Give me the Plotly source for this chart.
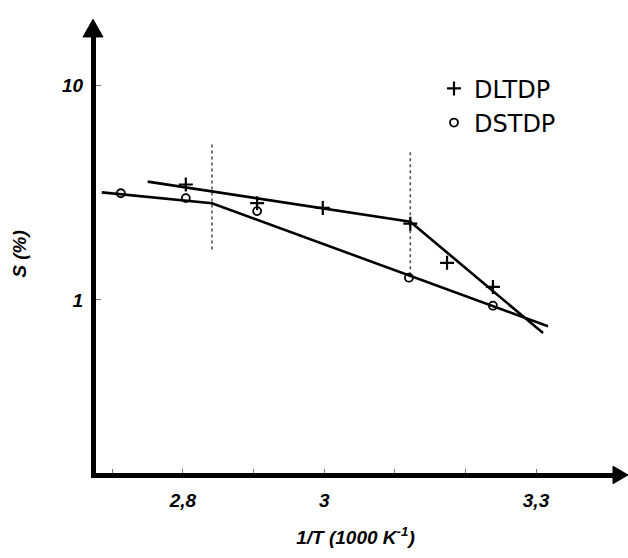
import plotly.graph_objects as go

# ---- data ----
dltdp_x = [2.804, 2.905, 2.998, 3.122, 3.174, 3.239]
dltdp_y = [3.46, 2.83, 2.69, 2.27, 1.49, 1.15]

dstdp_x = [2.712, 2.804, 2.905, 3.120, 3.239]
dstdp_y = [3.15, 2.99, 2.60, 1.27, 0.94]

# fitted (hand-drawn) lines
dltdp_fit_x = [2.750, 3.122, 3.310]
dltdp_fit_y = [3.57, 2.32, 0.70]
dstdp_fit_x = [2.685, 2.841, 3.317]
dstdp_fit_y = [3.18, 2.83, 0.753]

# dotted vertical marker lines (break points)
vline1_x = [2.841, 2.841]
vline1_y = [5.32, 1.67]
vline2_x = [3.122, 3.122]
vline2_y = [4.89, 1.27]

x_tickvals = [2.8, 3.0, 3.3]
x_ticktext = ["2,8", "3", "3,3"]
x_minor_vals = [2.7, 2.9, 3.1, 3.2]
y_tickvals = [1, 10]
y_ticktext = ["1", "10"]

FONT = "Liberation Sans, Arial, sans-serif"
bi = dict(family=FONT, size=19, color="black", weight="bold", style="italic")

fig = go.Figure()

for xs, ys in [(vline1_x, vline1_y), (vline2_x, vline2_y)]:
    fig.add_trace(go.Scatter(x=xs, y=ys, mode="lines", showlegend=False,
                             line=dict(color="#555555", width=1.6, dash="dot"),
                             hoverinfo="skip"))

fig.add_trace(go.Scatter(x=dltdp_fit_x, y=dltdp_fit_y, mode="lines", showlegend=False,
                         line=dict(color="black", width=2.6)))
fig.add_trace(go.Scatter(x=dstdp_fit_x, y=dstdp_fit_y, mode="lines", showlegend=False,
                         line=dict(color="black", width=2.6)))

fig.add_trace(go.Scatter(x=dltdp_x, y=dltdp_y, mode="markers", name="DLTDP",
                         legendgroup="a",
                         marker=dict(symbol="cross-thin", size=10, color="black",
                                     line=dict(color="black", width=2.2))))
fig.add_trace(go.Scatter(x=dstdp_x, y=dstdp_y, mode="markers", name="DSTDP",
                         legendgroup="b",
                         marker=dict(symbol="circle-open", size=8, color="black",
                                     line=dict(color="black", width=1.8))))

W, H = 628, 558
L, R, T, B = 96, 13, 35, 75
pw, ph = W - L - R, H - T - B


def px(x, y):
    """reference pixel -> paper coords"""
    return (x - L) / pw, (H - B - y) / ph


def tri(p1, p2, p3):
    a, b, c = px(*p1), px(*p2), px(*p3)
    return f"M {a[0]} {a[1]} L {b[0]} {b[1]} L {c[0]} {c[1]} Z"


fig.add_shape(type="path", xref="paper", yref="paper",
              path=tri((93, 19), (83, 37), (103, 37)),
              fillcolor="black", line=dict(color="black", width=1))
fig.add_shape(type="path", xref="paper", yref="paper",
              path=tri((628, 485), (613, 476), (613, 494)),
              fillcolor="black", line=dict(color="black", width=1))

fig.update_layout(
    width=W, height=H,
    margin=dict(l=L, r=R, t=T, b=B),
    paper_bgcolor="white", plot_bgcolor="white",
    showlegend=True,
    legend=dict(x=px(434, 0)[0], y=px(0, 67)[1], xanchor="left", yanchor="top",
                font=dict(family="DejaVu Sans, sans-serif", size=24, color="black"),
                bgcolor="rgba(0,0,0,0)", tracegroupgap=0, itemwidth=30),
    xaxis=dict(range=[2.6768, 3.4119], showgrid=False, zeroline=False,
               showline=True, linewidth=5, linecolor="black",
               tickmode="array", tickvals=x_tickvals, ticktext=x_ticktext,
               ticks="inside", ticklen=4, tickwidth=1, tickcolor="#777777",
               minor=dict(tickmode="array", tickvals=x_minor_vals, ticks="inside",
                          ticklen=4, tickwidth=1, tickcolor="#777777", showgrid=False),
               tickfont=bi, ticklabelstandoff=6,
               title=dict(text="1/T (1000 K<sup>-1</sup>)", font=bi, standoff=22)),
    yaxis=dict(type="log", range=[-0.8082, 1.2374], showgrid=False, zeroline=False,
               showline=True, linewidth=5, linecolor="black",
               tickmode="array", tickvals=y_tickvals, ticktext=y_ticktext,
               ticks="inside", ticklen=5, tickwidth=1, tickcolor="#777777",
               tickfont=bi, ticklabelstandoff=4,
               title=dict(text="S (%)", font=bi, standoff=32)),
)

fig.write_html("out.html",
               config={"displayModeBar": False},
               post_script="document.body.style.margin='0';"
                           "document.documentElement.style.overflow='hidden';")
